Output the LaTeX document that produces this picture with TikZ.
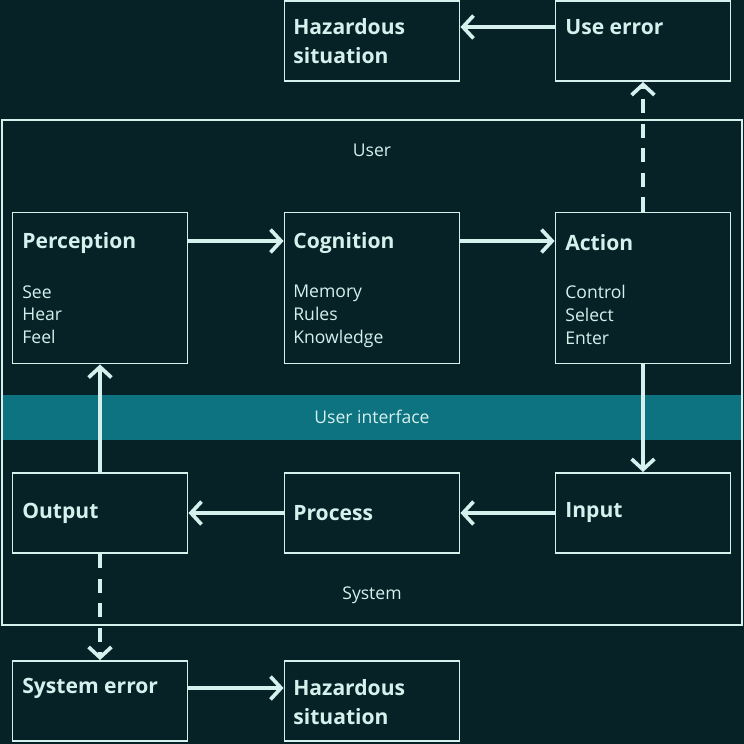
\documentclass[tikz,border=0pt]{standalone}
\usepackage{fontspec}
\setmainfont{Open Sans}
\usetikzlibrary{arrows.meta,positioning}
\definecolor{bg}{HTML}{062226}
\definecolor{fg}{HTML}{D6F0EE}
\definecolor{band}{HTML}{0E7380}
\tikzset{
  box/.style={draw=fg, line width=1.1pt, minimum width=3.5cm, inner sep=0pt},
  tall/.style={box, minimum height=3.02cm},
  short/.style={box, minimum height=1.6cm},
  title/.style={text=fg, font=\fontsize{12}{16.4}\selectfont\bfseries, align=left, inner sep=0pt},
  sub/.style={text=fg, font=\fontsize{10}{13}\selectfont, align=left, inner sep=0pt},
  flow/.style={draw=fg, line width=2.1pt, -{Straight Barb[length=6pt,width=13pt,line width=2.1pt]}},
  err/.style={flow, dash pattern=on 8pt off 6pt},
}
\begin{document}
\begin{tikzpicture}[x=0.02cm,y=-0.02cm]
  \fill[bg] (0,0) rectangle (744,744);
  \useasboundingbox (0,0) rectangle (744,744);
  %frame and band
  \fill[band] (2,395) rectangle (742,440);
  \draw[fg, line width=1.1pt] (2,120) rectangle (742,625);
  \node[sub] (user) at (372,150) {User};
  \node[sub] (ui) at (372,417) {User interface};
  \node[sub] (sys) at (372,595) {System};
  %boxes
  \node[short] (haz1) at (372,41) {};
  \node[short] (use) at (643,41) {};
  \node[tall] (per) at (100,288) {};
  \node[tall] (cog) at (372,288) {};
  \node[tall] (act) at (643,288) {};
  \node[short] (out) at (100,513) {};
  \node[short] (pro) at (372,513) {};
  \node[short] (inp) at (643,513) {};
  \node[short] (serr) at (100,701) {};
  \node[short] (haz2) at (372,701) {};
  %texts
  \node[title, anchor=west] at (293,41) {Hazardous\\situation};
  \node[title, anchor=west] at (565,27) {Use error};
  \node[title, anchor=west] at (22,243) {Perception};
  \node[sub, anchor=north west] at (22,285) {See\\Hear\\Feel};
  \node[title, anchor=west] at (293,243) {Cognition};
  \node[sub, anchor=north west] at (293,285) {Memory\\Rules\\Knowledge};
  \node[title, anchor=west] at (565,243) {Action};
  \node[sub, anchor=north west] at (565,285) {Control\\Select\\Enter};
  \node[title, anchor=west] at (22,513) {Output};
  \node[title, anchor=west] at (293,513) {Process};
  \node[title, anchor=west] at (565,513) {Input};
  \node[title, anchor=west] at (22,688) {System error};
  \node[title, anchor=west] at (293,702) {Hazardous\\situation};
  %arrows
  \draw[flow] (per.east |- 0,241) -- (cog.west |- 0,241);
  \draw[flow] (cog.east |- 0,241) -- (act.west |- 0,241);
  \draw[flow] (act.south) -- (inp.north);
  \draw[flow] (inp.west) -- (pro.east);
  \draw[flow] (pro.west) -- (out.east);
  \draw[flow] (out.north) -- (per.south);
  \draw[err] (act.north) -- (use.south);
  \draw[flow] (use.west |- 0,27) -- (haz1.east |- 0,27);
  \draw[err] (out.south) -- (serr.north);
  \draw[flow] (serr.east |- 0,688) -- (haz2.west |- 0,688);
\end{tikzpicture}
\end{document}
